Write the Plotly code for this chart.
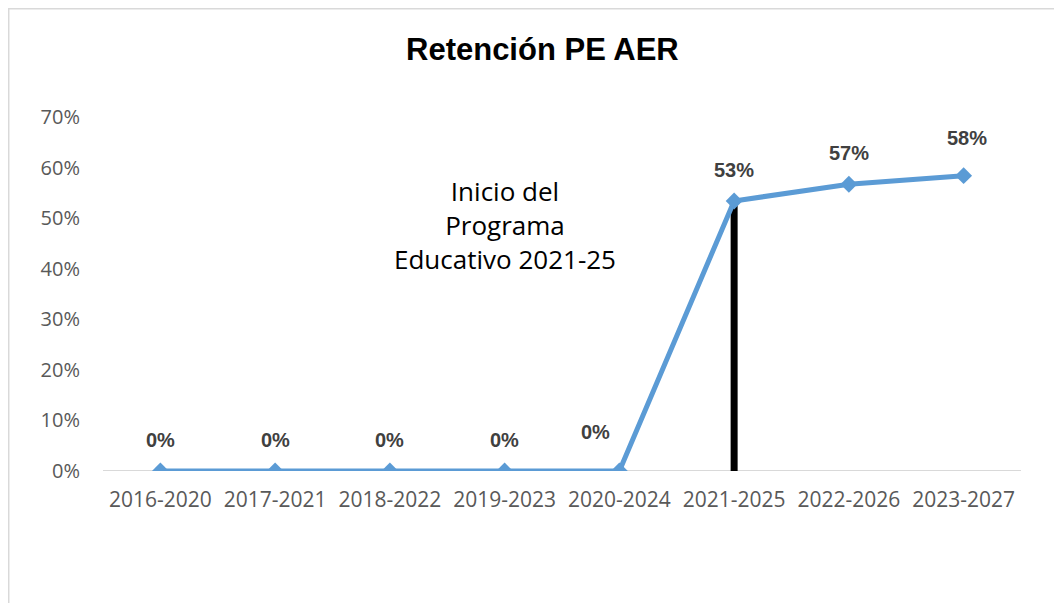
import plotly.graph_objects as go

categories = ["2016-2020", "2017-2021", "2018-2022", "2019-2023",
              "2020-2024", "2021-2025", "2022-2026", "2023-2027"]
retention = [0.0, 0.0, 0.0, 0.0, 0.0, 0.534, 0.567, 0.584]
labels = ["0%", "0%", "0%", "0%", "0%", "53%", "57%", "58%"]
program_start = "2021-2025"
program_value = 0.534
note_text = "Inicio del<br>Programa<br>Educativo 2021-25"

BLUE = "#5B9BD5"
GRAY_TXT = "#595959"
LABEL_TXT = "#404040"
NARROW = "Liberation Sans Narrow, Arial Narrow, Liberation Sans, Arial"
BODY = "Open Sans, Noto Sans, sans-serif"

fig = go.Figure()

# black marker line for program start
fig.add_trace(go.Scatter(
    x=[program_start, program_start], y=[0, program_value],
    mode="lines", line=dict(color="black", width=7),
    hoverinfo="skip", showlegend=False))

fig.add_trace(go.Scatter(
    x=categories, y=retention, mode="lines+markers",
    line=dict(color=BLUE, width=5),
    marker=dict(symbol="diamond", size=13, color=BLUE),
    showlegend=False))

# data labels
shifts = {4: (-24, 39), 7: (3, 38)}
for i, (c, v, t) in enumerate(zip(categories, retention, labels)):
    xs, ys = shifts.get(i, (0, 31))
    fig.add_annotation(x=c, y=v, text=t, showarrow=False,
                       xshift=xs, yshift=ys,
                       font=dict(family=NARROW, size=20, color=LABEL_TXT, weight="bold"))

fig.add_annotation(x=categories[3], y=0.486, text=note_text, showarrow=False,
                   font=dict(family=BODY, size=26, color="black"),
                   align="center")

# outer chart border
fig.add_shape(type="rect", xref="paper", yref="paper",
              x0=-0.1027, x1=1.06, y0=-0.45, y1=1.306,
              line=dict(color="#D9D9D9", width=1.5), fillcolor="rgba(0,0,0,0)",
              layer="below")

fig.update_layout(
    width=1054, height=595,
    margin=dict(l=95, r=41, t=109, b=132),
    paper_bgcolor="white", plot_bgcolor="white",
    title=dict(text="<b>Retención PE AER</b>", x=0.507, xanchor="center",
               y=0.931, yanchor="middle",
               font=dict(family=NARROW, size=31, color="black")),
    xaxis=dict(type="category", categoryorder="array", categoryarray=categories,
               range=[-0.5, 7.5], showgrid=False,
               showline=False, zeroline=False, ticks="",
               tickfont=dict(family=BODY, size=21, color=GRAY_TXT),
               ticklabelstandoff=14),
    yaxis=dict(range=[0, 0.7], tickvals=[0, 0.1, 0.2, 0.3, 0.4, 0.5, 0.6, 0.7],
               tickformat=".0%", showgrid=False, zeroline=False, showline=False,
               ticks="", tickfont=dict(family=BODY, size=20, color=GRAY_TXT),
               ticklabelstandoff=22),
)

# baseline axis line at 0
fig.add_shape(type="line", xref="paper", yref="y", x0=0, x1=1, y0=0, y1=0,
              line=dict(color="#D9D9D9", width=2), layer="below")

fig.write_html("out.html")
